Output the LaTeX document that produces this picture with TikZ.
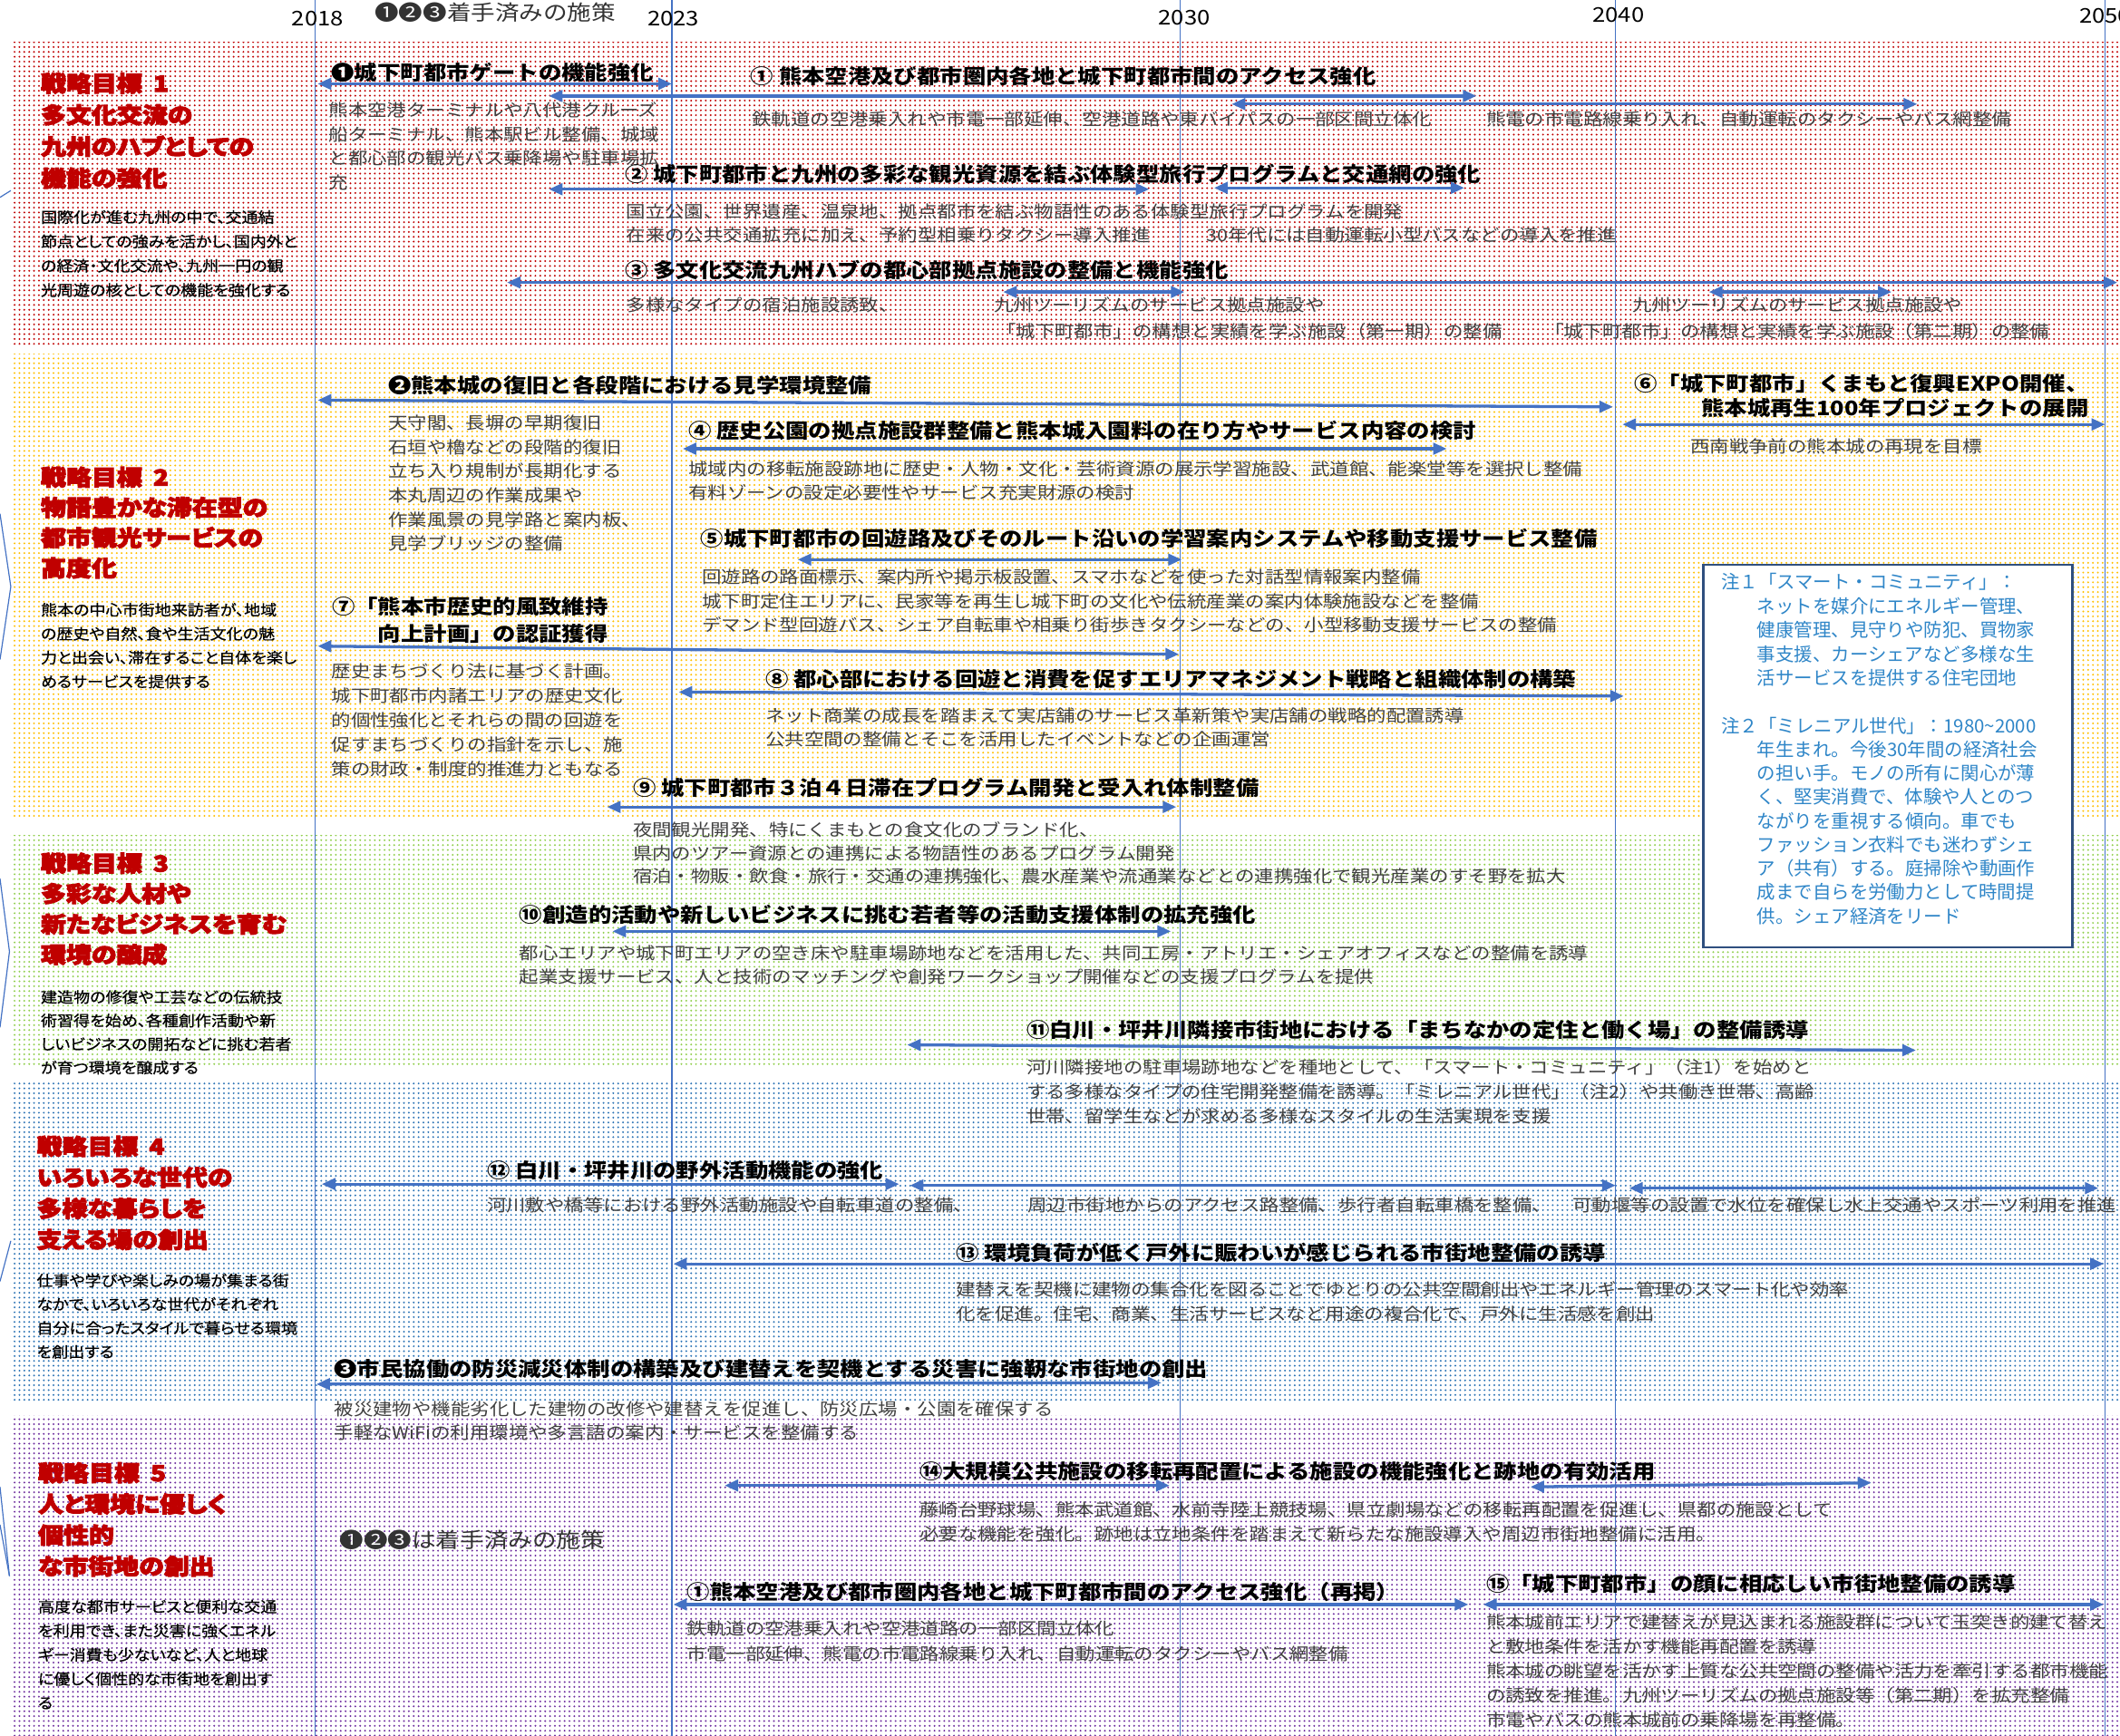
\documentclass[tikz,border=0pt]{standalone}
\usepackage{fontspec}
\setmainfont{Noto Sans CJK JP}[FakeStretch=1.15]
\newfontfamily\jpplain{Noto Sans CJK JP}
\newfontfamily\jpprop{Noto Sans CJK JP}[FakeStretch=1.1,RawFeature={+palt},FakeBold=0.6]
\newfontfamily\jpheavy{Noto Sans CJK JP}[FakeStretch=1.15,RawFeature={+palt},BoldFeatures={FakeBold=4}]
\usetikzlibrary{arrows.meta,patterns.meta}
\definecolor{ablue}{HTML}{4472C4}
\definecolor{hdred}{HTML}{C00000}
\definecolor{bodygray}{HTML}{404040}
\definecolor{ntblue}{HTML}{2F86C8}
\definecolor{ntborder}{HTML}{2F4F7F}
\definecolor{dred}{HTML}{C00000}
\definecolor{dorange}{HTML}{FFC000}
\definecolor{dgreen}{HTML}{92D050}
\definecolor{dblue}{HTML}{2E75B6}
\definecolor{dpurple}{HTML}{7030A0}
\tikzset{
 band/.style={pattern={Dots[distance=3.6pt,radius=0.75pt]}, pattern color=#1},
 yline/.style={draw=ablue, line width=0.8pt},
 bar/.style={draw=ablue, line width=2.2pt, {Triangle[length=10pt,width=8.5pt]}-{Triangle[length=10pt,width=8.5pt]}},
 yr/.style={font=\fontsize{15}{15}\selectfont, inner sep=0pt},
 ttl/.style={font=\bfseries\fontsize{14.8}{18}\selectfont, anchor=base west, inner sep=0pt, align=left},
 bt/.style={font=\fontsize{12.5}{17.9}\selectfont, text=bodygray, anchor=base west, inner sep=0pt, align=left},
 hd/.style={font=\jpheavy\bfseries\fontsize{16.3}{23}\selectfont, text=hdred, anchor=base west, inner sep=0pt, align=left},
 ds/.style={font=\jpprop\fontsize{11}{17.7}\selectfont, anchor=base west, inner sep=0pt, align=left},
 nt/.style={font=\jpplain\fontsize{13.7}{17.8}\selectfont, text=ntblue, anchor=base west, inner sep=0pt, align=left},
 lbl/.style={font=\fontsize{15.5}{15.5}\selectfont, text=black!80, anchor=west, inner sep=0pt},
}
\begin{document}
\begin{tikzpicture}[x=1pt,y=-1pt]
\useasboundingbox (0,0) rectangle (1568,1284);
\fill[white] (0,0) rectangle (1568,1284);
% bands
\fill[band=dred] (8,31) rectangle (1568,255);
\fill[band=dorange] (8,262) rectangle (1568,606);
\fill[band=dgreen] (8,618) rectangle (1568,789);
\fill[band=dblue] (8,799) rectangle (1568,1037);
\fill[band=dpurple] (8,1047) rectangle (1568,1284);
% left edge fragments
\draw[yline] (0,146) -- (8,141);
\draw[yline] (0,380) -- (8,434) -- (0,488);
\draw[yline] (0,650) -- (7,704) -- (0,760);
\draw[yline] (8,918) -- (0,948);
\draw[yline] (0,1100) -- (7,1166);
\draw[yline] (0,1128) -- (7,1166);
% year lines
\foreach \n/\x in {a/233,b/497,c/873,d/1195,e/1557}{
  \coordinate (top\n) at (\x,0);
  \coordinate (bot\n) at (\x,1284);
  \draw[yline] (top\n) -- (bot\n);
}
% year labels
\node[yr] (y2018) at (235,14) {2018};
\node[yr] (y2023) at (498,14) {2023};
\node[yr] (y2030) at (876,13) {2030};
\node[yr] (y2040) at (1197,11) {2040};
\node[yr] (y2050) at (1557,12) {2050};
\node[lbl] (donetop) at (277,9.5) {❶❷❸着手済みの施策};

% ---------- band 1 ----------
\node[hd, font=\jpheavy\bfseries\fontsize{16.3}{23.4}\selectfont] (h1) at (30,138) {戦略目標\hspace{0.5em}1\\多文化交流の\\九州のハブとしての\\機能の強化};
\node[ds, font=\jpprop\fontsize{11}{18}\selectfont] (d1) at (30,218.8) {国際化が進む九州の中で、交通結\\節点としての強みを活かし、国内外と\\の経済・文化交流や、九州一円の観\\光周遊の核としての機能を強化する};

\node[ttl] (t01) at (245,59.3) {❶城下町都市ゲートの機能強化};
\node[bt] (b01) at (243,139.8) {熊本空港ターミナルや八代港クルーズ\\船ターミナル、熊本駅ビル整備、城域\\と都心部の観光バス乗降場や駐車場拡\\充};
\node[ttl] (t1) at (555,61.8) {① 熊本空港及び都市圏内各地と城下町都市間のアクセス強化};
\node[bt] (b1a) at (556,93) {鉄軌道の空港乗入れや市電一部延伸、空港道路や東バイパスの一部区間立体化};
\node[bt] (b1b) at (1099,93) {熊電の市電路線乗り入れ、自動運転のタクシーやバス網整備};
\node[ttl] (t2) at (462,134.3) {② 城下町都市と九州の多彩な観光資源を結ぶ体験型旅行プログラムと交通網の強化};
\node[bt] (b2a) at (463,179) {国立公園、世界遺産、温泉地、拠点都市を結ぶ物語性のある体験型旅行プログラムを開発\\在来の公共交通拡充に加え、予約型相乗りタクシー導入推進};
\node[bt] (b2b) at (892,179) {30年代には自動運転小型バスなどの導入を推進};
\node[ttl] (t3) at (462,205.3) {③ 多文化交流九州ハブの都心部拠点施設の整備と機能強化};
\node[bt] (b3a) at (463,230.5) {多様なタイプの宿泊施設誘致、};
\node[bt] (b3b) at (735,230.5) {九州ツーリズムのサービス拠点施設や};
\node[bt] (b3c) at (737,249.5) {「城下町都市」の構想と実績を学ぶ施設（第一期）の整備};
\node[bt] (b3d) at (1207,230.5) {九州ツーリズムのサービス拠点施設や};
\node[bt] (b3e) at (1142,249.5) {「城下町都市」の構想と実績を学ぶ施設（第二期）の整備};

\coordinate (a01l) at (235,62);  \coordinate (a01r) at (497,62);
\coordinate (a1al) at (406,71);  \coordinate (a1ar) at (1092,71);
\coordinate (a1bl) at (911,77);  \coordinate (a1br) at (1418,77);
\coordinate (a2al) at (406,140); \coordinate (a2ar) at (850,140);
\coordinate (a2bl) at (898,139); \coordinate (a2br) at (1083,139);
\coordinate (a3l) at (375,209);  \coordinate (a3r) at (1566,209);
\coordinate (a3al) at (742,216); \coordinate (a3ar) at (876,216);
\coordinate (a3bl) at (1264,216); \coordinate (a3br) at (1399,216);
\draw[bar] (a01l) -- (a01r);
\draw[bar] (a1al) -- (a1ar);
\draw[bar] (a1bl) -- (a1br);
\draw[bar] (a2al) -- (a2ar);
\draw[bar] (a2bl) -- (a2br);
\draw[bar] (a3l) -- (a3r);
\draw[bar] (a3al) -- (a3ar);
\draw[bar] (a3bl) -- (a3br);

% ---------- band 2 ----------
\node[hd, font=\jpheavy\bfseries\fontsize{16.3}{22.4}\selectfont] (h2) at (30,426.4) {戦略目標\hspace{0.5em}2\\物語豊かな滞在型の\\都市観光サービスの\\高度化};
\node[ds] (d2) at (30,508.4) {熊本の中心市街地来訪者が、地域\\の歴史や自然、食や生活文化の魅\\力と出会い、滞在すること自体を楽し\\めるサービスを提供する};

\node[ttl] (t02) at (287,291) {❷熊本城の復旧と各段階における見学環境整備};
\node[bt] (b02) at (287,407) {天守閣、長塀の早期復旧\\石垣や櫓などの段階的復旧\\立ち入り規制が長期化する\\本丸周辺の作業成果や\\作業風景の見学路と案内板、\\見学ブリッジの整備};
\node[ttl] (t4) at (509,324.3) {④ 歴史公園の拠点施設群整備と熊本城入園料の在り方やサービス内容の検討};
\node[bt, font=\fontsize{12.5}{17.7}\selectfont] (b4) at (509,369.2) {城域内の移転施設跡地に歴史・人物・文化・芸術資源の展示学習施設、武道館、能楽堂等を選択し整備\\有料ゾーンの設定必要性やサービス充実財源の検討};
\node[ttl] (t5) at (518,404.3) {⑤城下町都市の回遊路及びそのルート沿いの学習案内システムや移動支援サービス整備};
\node[bt] (b5) at (519,467.3) {回遊路の路面標示、案内所や掲示板設置、スマホなどを使った対話型情報案内整備\\城下町定住エリアに、民家等を再生し城下町の文化や伝統産業の案内体験施設などを整備\\デマンド型回遊バス、シェア自転車や相乗り街歩きタクシーなどの、小型移動支援サービスの整備};
\node[ttl, anchor=base east, align=right, font=\bfseries\fontsize{14.8}{18.2}\selectfont] (t6) at (1545,307.5) {⑥「城下町都市」くまもと復興EXPO開催、\\熊本城再生100年プロジェクトの展開};
\node[bt] (b6) at (1250,335) {西南戦争前の熊本城の再現を目標};
\node[ttl, anchor=base east, align=right, font=\bfseries\fontsize{14.8}{20.5}\selectfont] (t7) at (450,474.8) {⑦「熊本市歴史的風致維持\\向上計画」の認証獲得};
\node[bt, font=\fontsize{12.5}{18}\selectfont] (b7) at (245,573.5) {歴史まちづくり法に基づく計画。\\城下町都市内諸エリアの歴史文化\\的個性強化とそれらの間の回遊を\\促すまちづくりの指針を示し、施\\策の財政・制度的推進力ともなる};
\node[ttl] (t8) at (566,508.3) {⑧ 都心部における回遊と消費を促すエリアマネジメント戦略と組織体制の構築};
\node[bt, font=\fontsize{12.5}{17}\selectfont] (b8) at (566,551.5) {ネット商業の成長を踏まえて実店舗のサービス革新策や実店舗の戦略的配置誘導\\公共空間の整備とそこを活用したイベントなどの企画運営};
\node[ttl] (t9) at (468,588.8) {⑨ 城下町都市３泊４日滞在プログラム開発と受入れ体制整備};
\node[bt, font=\fontsize{12.5}{17.3}\selectfont] (b9) at (468,653.1) {夜間観光開発、特にくまもとの食文化のブランド化、\\県内のツアー資源との連携による物語性のあるプログラム開発\\宿泊・物販・飲食・旅行・交通の連携強化、農水産業や流通業などとの連携強化で観光産業のすそ野を拡大};

\coordinate (a02l) at (235,296); \coordinate (a02r) at (1193,301);
\coordinate (a4l) at (505,332);  \coordinate (a4r) at (1070,332);
\coordinate (a5l) at (590,414);  \coordinate (a5r) at (874,414);
\coordinate (a6l) at (1200,314); \coordinate (a6r) at (1557,314);
\coordinate (a7l) at (235,478);  \coordinate (a7r) at (872,484);
\coordinate (a8l) at (502,512);  \coordinate (a8r) at (1201,515);
\coordinate (a9l) at (449,597);  \coordinate (a9r) at (870,597);
\draw[bar] (a02l) -- (a02r);
\draw[bar] (a4l) -- (a4r);
\draw[bar] (a5l) -- (a5r);
\draw[bar] (a6l) -- (a6r);
\draw[bar] (a7l) -- (a7r);
\draw[bar] (a8l) -- (a8r);
\draw[bar] (a9l) -- (a9r);

% ---------- band 3 ----------
\node[hd, font=\jpheavy\bfseries\fontsize{16.3}{22.5}\selectfont] (h3) at (30,712.3) {戦略目標\hspace{0.5em}3\\多彩な人材や\\新たなビジネスを育む\\環境の醸成};
\node[ds, font=\jpprop\fontsize{11}{17.4}\selectfont] (d3) at (30,794) {建造物の修復や工芸などの伝統技\\術習得を始め、各種創作活動や新\\しいビジネスの開拓などに挑む若者\\が育つ環境を醸成する};

\node[ttl] (t10) at (384,682.7) {⑩創造的活動や新しいビジネスに挑む若者等の活動支援体制の拡充強化};
\node[bt, font=\fontsize{12.5}{17.5}\selectfont] (b10) at (384,727.5) {都心エリアや城下町エリアの空き床や駐車場跡地などを活用した、共同工房・アトリエ・シェアオフィスなどの整備を誘導\\起業支援サービス、人と技術のマッチングや創発ワークショップ開催などの支援プログラムを提供};
\node[ttl] (t11) at (759,767.7) {⑪白川・坪井川隣接市街地における「まちなかの定住と働く場」の整備誘導};
\node[bt, font=\fontsize{12.5}{18}\selectfont] (b11) at (759,830.5) {河川隣接地の駐車場跡地などを種地として、「スマート・コミュニティ」（注1）を始めと\\する多様なタイプの住宅開発整備を誘導。「ミレニアル世代」（注2）や共働き世帯、高齢\\世帯、留学生などが求める多様なスタイルの生活実現を支援};

\coordinate (a10l) at (453,689); \coordinate (a10r) at (866,689);
\coordinate (a11l) at (671,773); \coordinate (a11r) at (1417,777);
\draw[bar] (a10l) -- (a10r);
\draw[bar] (a11l) -- (a11r);

% note box
\node[draw=ntborder, line width=1.5pt, fill=white, minimum width=273pt, minimum height=283pt, anchor=north west, inner sep=0pt] (notebox) at (1259,417) {};
\node[nt] (n1) at (1273,506.8) {注１「スマート・コミュニティ」：\\\hspace*{26.5pt}ネットを媒介にエネルギー管理、\\\hspace*{26.5pt}健康管理、見守りや防犯、買物家\\\hspace*{26.5pt}事支援、カーシェアなど多様な生\\\hspace*{26.5pt}活サービスを提供する住宅団地};
\node[nt, font=\jpplain\fontsize{13.7}{17.6}\selectfont] (n2) at (1273,682.8) {注２「ミレニアル世代」：1980\textasciitilde 2000\\\hspace*{26.5pt}年生まれ。今後30年間の経済社会\\\hspace*{26.5pt}の担い手。モノの所有に関心が薄\\\hspace*{26.5pt}く、堅実消費で、体験や人とのつ\\\hspace*{26.5pt}ながりを重視する傾向。車でも\\\hspace*{26.5pt}ファッション衣料でも迷わずシェ\\\hspace*{26.5pt}ア（共有）する。庭掃除や動画作\\\hspace*{26.5pt}成まで自らを労働力として時間提\\\hspace*{26.5pt}供。シェア経済をリード};

% ---------- band 4 ----------
\node[hd] (h4) at (27,923.2) {戦略目標\hspace{0.5em}4\\いろいろな世代の\\多様な暮らしを\\支える場の創出};
\node[ds, font=\jpprop\fontsize{11}{17.6}\selectfont] (d4) at (27,1004.3) {仕事や学びや楽しみの場が集まる街\\なかで、いろいろな世代がそれぞれ\\自分に合ったスタイルで暮らせる環境\\を創出する};

\node[ttl] (t12) at (360,871.8) {⑫ 白川・坪井川の野外活動機能の強化};
\node[bt] (b12a) at (360,896.5) {河川敷や橋等における野外活動施設や自転車道の整備、};
\node[bt] (b12b) at (760,896.5) {周辺市街地からのアクセス路整備、歩行者自転車橋を整備、};
\node[bt] (b12c) at (1163,896.5) {可動堰等の設置で水位を確保し水上交通やスポーツ利用を推進};
\node[ttl] (t13) at (707,932.3) {⑬ 環境負荷が低く戸外に賑わいが感じられる市街地整備の誘導};
\node[bt, font=\fontsize{12.5}{18}\selectfont] (b13) at (707,977) {建替えを契機に建物の集合化を図ることでゆとりの公共空間創出やエネルギー管理のスマート化や効率\\化を促進。住宅、商業、生活サービスなど用途の複合化で、戸外に生活感を創出};
\node[ttl] (t03) at (247,1018.3) {❸市民協働の防災減災体制の構築及び建替えを契機とする災害に強靭な市街地の創出};
\node[bt, font=\fontsize{12.5}{17}\selectfont] (b03) at (247,1064.5) {被災建物や機能劣化した建物の改修や建替えを促進し、防災広場・公園を確保する\\手軽なWiFiの利用環境や多言語の案内・サービスを整備する};

\coordinate (a12al) at (238,876);  \coordinate (a12ar) at (665,876);
\coordinate (a12bl) at (673,877);  \coordinate (a12br) at (1195,877);
\coordinate (a12cl) at (1205,879); \coordinate (a12cr) at (1552,879);
\coordinate (a13l) at (498,935);   \coordinate (a13r) at (1556,935);
\coordinate (a03l) at (234,1024);  \coordinate (a03r) at (859,1023);
\draw[bar] (a12al) -- (a12ar);
\draw[bar] (a12bl) -- (a12br);
\draw[bar] (a12cl) -- (a12cr);
\draw[bar] (a13l) -- (a13r);
\draw[bar] (a03l) -- (a03r);

% ---------- band 5 ----------
\node[hd] (h5) at (28,1164.8) {戦略目標\hspace{0.5em}5\\人と環境に優しく\\個性的\\な市街地の創出};
\node[ds, font=\jpprop\fontsize{11}{17.8}\selectfont] (d5) at (28,1264) {高度な都市サービスと便利な交通\\を利用でき、また災害に強くエネル\\ギー消費も少ないなど、人と地球\\に優しく個性的な市街地を創出す\\る};
\node[lbl] (donebot) at (251,1139) {❶❷❸は着手済みの施策};

\node[ttl] (t14) at (680,1094.3) {⑭大規模公共施設の移転再配置による施設の機能強化と跡地の有効活用};
\node[bt, font=\fontsize{12.5}{18}\selectfont] (b14) at (680,1139.5) {藤崎台野球場、熊本武道館、水前寺陸上競技場、県立劇場などの移転再配置を促進し、県都の施設として\\必要な機能を強化。跡地は立地条件を踏まえて新らたな施設導入や周辺市街地整備に活用。};
\node[ttl] (t1r) at (508,1183.3) {①熊本空港及び都市圏内各地と城下町都市間のアクセス強化（再掲）};
\node[bt, font=\fontsize{12.5}{18.7}\selectfont] (b1r) at (508,1228.2) {鉄軌道の空港乗入れや空港道路の一部区間立体化\\市電一部延伸、熊電の市電路線乗り入れ、自動運転のタクシーやバス網整備};
\node[ttl] (t15) at (1099,1177.3) {⑮「城下町都市」の顔に相応しい市街地整備の誘導};
\node[bt, font=\fontsize{12.5}{18.1}\selectfont] (b15) at (1099,1277.4) {熊本城前エリアで建替えが見込まれる施設群について玉突き的建て替え\\と敷地条件を活かす機能再配置を誘導\\熊本城の眺望を活かす上質な公共空間の整備や活力を牽引する都市機能\\の誘致を推進。九州ツーリズムの拠点施設等（第二期）を拡充整備\\市電やバスの熊本城前の乗降場を再整備。};

\coordinate (a14al) at (536,1099); \coordinate (a14ar) at (865,1099);
\coordinate (a14bl) at (1132,1100); \coordinate (a14br) at (1384,1097);
\coordinate (a1rl) at (498,1187);  \coordinate (a1rr) at (1086,1187);
\coordinate (a15l) at (1097,1187); \coordinate (a15r) at (1556,1187);
\draw[bar] (a14al) -- (a14ar);
\draw[bar] (a14bl) -- (a14br);
\draw[bar] (a1rl) -- (a1rr);
\draw[bar] (a15l) -- (a15r);
\end{tikzpicture}
\end{document}
